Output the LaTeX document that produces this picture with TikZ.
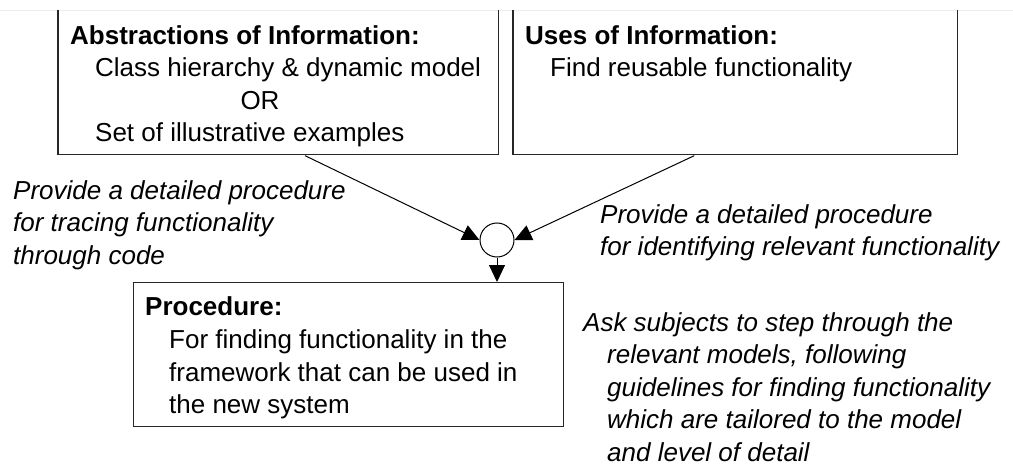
\documentclass[tikz,border=0pt]{standalone}
\usepackage{fontspec}
\setmainfont{Liberation Sans}
\usetikzlibrary{arrows.meta,calc}
\begin{document}
\begin{tikzpicture}[x=1pt,y=-1pt,
  frame/.style={draw=none, minimum width=#1, inner sep=0pt},
  edge/.style={line width=1.3pt, draw=black!85},
  conn/.style={line width=1pt, -{Triangle[length=17pt,width=16pt]}},
  txt/.style={anchor=base west, inner sep=0pt, font=\fontsize{26}{31}\selectfont},
  ttl/.style={txt, font=\fontsize{26}{31}\selectfont\bfseries},
  note/.style={txt, font=\fontsize{26}{31}\selectfont\itshape}]
\useasboundingbox (0,0) rectangle (1013,468);
\draw[black!7, line width=0.8pt] (0,10) -- (1013,10);
% top left box (open at top)
\node[frame=440, minimum height=144, anchor=north west] (abs) at (58,10) {};
\draw[edge] (abs.north west) -- (abs.south west) -- (abs.south east) -- (abs.north east);
\node[ttl] (absT) at (70,45) {Abstractions of Information:};
\node[txt] (abs1) at (95,77) {Class hierarchy \& dynamic model};
\node[txt, anchor=base] (absOr) at (260,110) {OR};
\node[txt] (abs2) at (95,142) {Set of illustrative examples};
% top right box (open at top)
\node[frame=444, minimum height=144, anchor=north west] (use) at (513,10) {};
\draw[edge] (use.north west) -- (use.south west) -- (use.south east) -- (use.north east);
\node[ttl] (useT) at (525,45) {Uses of Information:};
\node[txt] (use1) at (550,77) {Find reusable functionality};
% join circle
\node[circle, draw, line width=1pt, minimum size=34pt, inner sep=0pt] (c) at (497,240) {};
% procedure box
\node[draw, line width=1.3pt, draw=black!85, minimum width=430, minimum height=144, inner sep=0pt, anchor=north west] (proc) at (133,282) {};
\node[ttl] (procT) at (145,315) {Procedure:};
\node[txt] (proc1) at (169,348) {For finding functionality in the};
\node[txt] (proc2) at (169,381) {framework that can be used in};
\node[txt] (proc3) at (169,413) {the new system};
% connectors
\draw[conn, shorten <=3pt] ($(abs.south west)!0.555!(abs.south east)$) -- (c.west);
\draw[conn, shorten <=3pt] ($(use.south west)!0.414!(use.south east)$) -- (c.east);
\draw[conn] (c.south) -- (c.south |- proc.north);
% annotations
\node[note] (n1a) at (13,200) {Provide a detailed procedure};
\node[note] (n1b) at (13,232) {for tracing functionality};
\node[note] (n1c) at (13,264) {through code};
\node[note] (n2a) at (600,223) {Provide a detailed procedure};
\node[note] (n2b) at (600,255) {for identifying relevant functionality};
\node[note] (n3a) at (583,331) {Ask subjects to step through the};
\node[note] (n3b) at (607,363) {relevant models, following};
\node[note] (n3c) at (607,396) {guidelines for finding functionality};
\node[note] (n3d) at (607,428) {which are tailored to the model};
\node[note] (n3e) at (607,461) {and level of detail};
\end{tikzpicture}
\end{document}
